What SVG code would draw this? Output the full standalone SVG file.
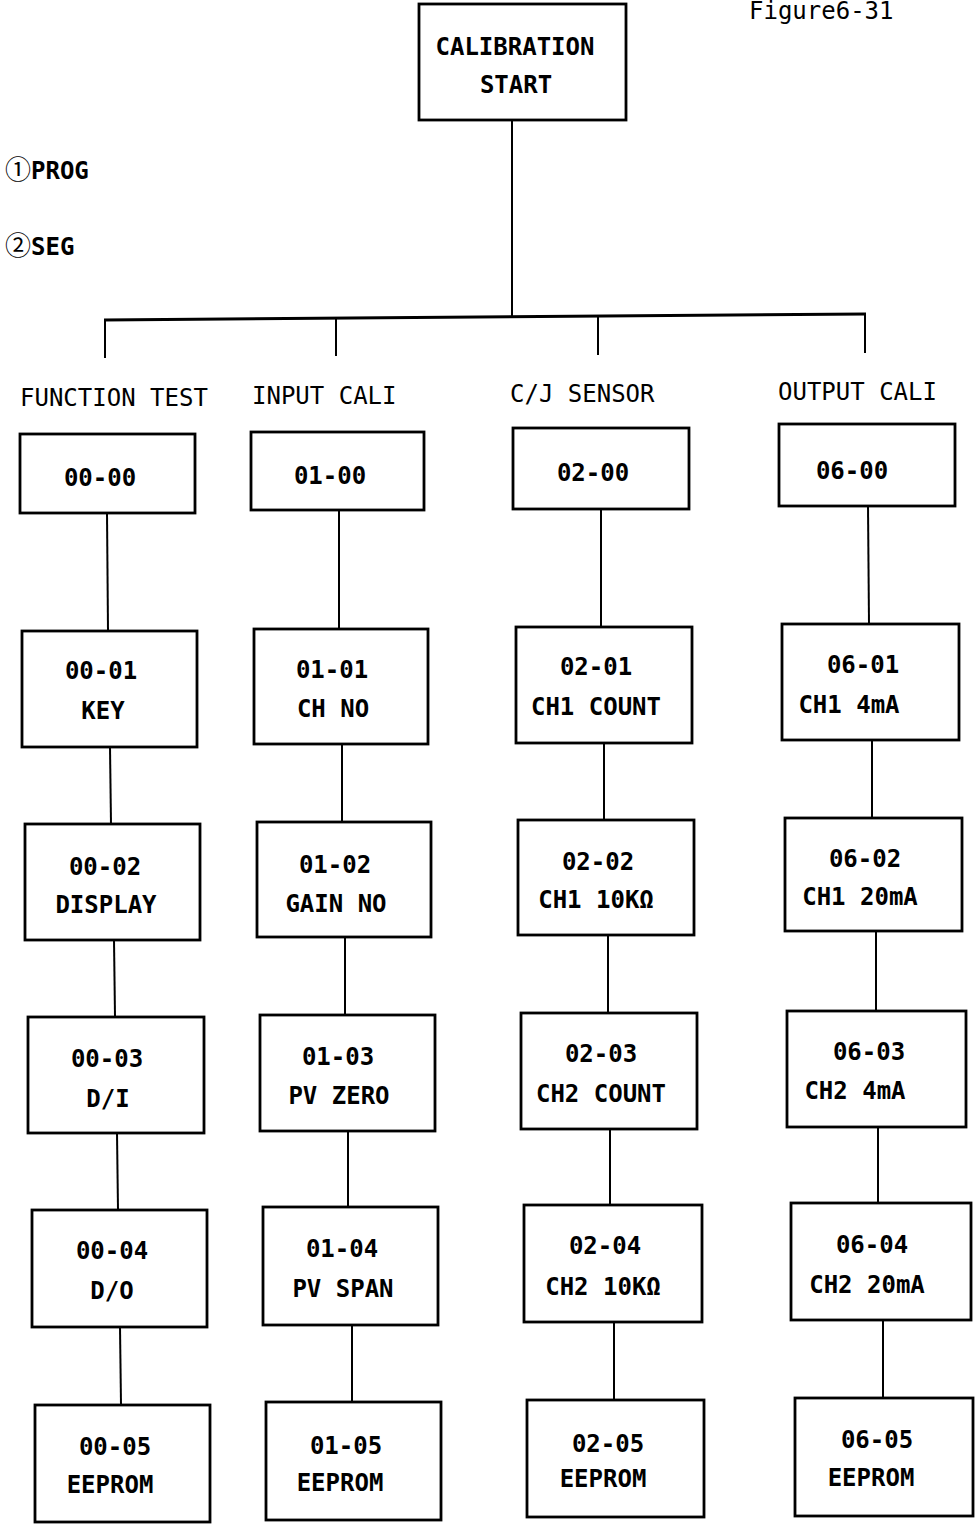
<svg xmlns="http://www.w3.org/2000/svg" width="975" height="1526" viewBox="0 0 975 1526">
<style>
.bx{fill:#fff;stroke:#000;stroke-width:2.8}
.ln{stroke:#000;stroke-width:2;fill:none}
.bus{stroke:#000;stroke-width:3;fill:none}
text{font-family:"DejaVu Sans Mono","Liberation Mono",monospace;font-weight:bold;font-size:24px;fill:#000;text-anchor:middle}
.hd{font-weight:normal;text-anchor:start}
.lg{text-anchor:start}
.cir{font-family:"Noto Sans CJK JP","DejaVu Sans",sans-serif;font-weight:normal;font-size:26px}
</style>
<rect width="975" height="1526" fill="#fff"/>
<text x="749" y="19" class="hd">Figure6-31</text>
<g id="legend">
<text x="5" y="179" class="lg"><tspan class="cir">①</tspan>PROG</text>
<text x="5" y="255" class="lg"><tspan class="cir">②</tspan>SEG</text>
</g>
<g id="connectors">
<line class="ln" x1="512" y1="120" x2="512" y2="318"/>
<line class="bus" x1="104" y1="320" x2="866" y2="314"/>
<line class="ln" x1="105" y1="320" x2="105" y2="358"/>
<line class="ln" x1="336" y1="319" x2="336" y2="356"/>
<line class="ln" x1="598" y1="317" x2="598" y2="355"/>
<line class="ln" x1="865" y1="315" x2="865" y2="353"/>
<line class="ln" x1="107" y1="513" x2="108" y2="631"/>
<line class="ln" x1="110" y1="747" x2="111" y2="824"/>
<line class="ln" x1="114" y1="940" x2="115" y2="1017"/>
<line class="ln" x1="117" y1="1133" x2="118" y2="1210"/>
<line class="ln" x1="120" y1="1327" x2="121" y2="1405"/>
<line class="ln" x1="339" y1="510" x2="339" y2="629"/>
<line class="ln" x1="342" y1="744" x2="342" y2="822"/>
<line class="ln" x1="345" y1="937" x2="345" y2="1015"/>
<line class="ln" x1="348" y1="1131" x2="348" y2="1207"/>
<line class="ln" x1="352" y1="1325" x2="352" y2="1402"/>
<line class="ln" x1="601" y1="509" x2="601" y2="627"/>
<line class="ln" x1="604" y1="743" x2="604" y2="820"/>
<line class="ln" x1="608" y1="935" x2="608" y2="1013"/>
<line class="ln" x1="610" y1="1129" x2="610" y2="1205"/>
<line class="ln" x1="614" y1="1322" x2="614" y2="1400"/>
<line class="ln" x1="868" y1="506" x2="869" y2="624"/>
<line class="ln" x1="872" y1="740" x2="872" y2="818"/>
<line class="ln" x1="876" y1="931" x2="876" y2="1011"/>
<line class="ln" x1="878" y1="1127" x2="878" y2="1203"/>
<line class="ln" x1="883" y1="1320" x2="883" y2="1398"/>
</g>
<g id="start"><rect class="bx" x="419" y="4" width="207" height="116"/><text x="515" y="55">CALIBRATION</text><text x="516" y="93">START</text></g>
<g id="headers">
<text x="20" y="406" class="hd">FUNCTION TEST</text>
<text x="252" y="404" class="hd">INPUT CALI</text>
<text x="510" y="402" class="hd">C/J SENSOR</text>
<text x="778" y="400" class="hd">OUTPUT CALI</text>
</g>
<g id="n00-00"><rect class="bx" x="20" y="434" width="175" height="79"/><text x="100" y="486">00-00</text></g>
<g id="n00-01"><rect class="bx" x="22" y="631" width="175" height="116"/><text x="101" y="679">00-01</text><text x="103" y="719">KEY</text></g>
<g id="n00-02"><rect class="bx" x="25" y="824" width="175" height="116"/><text x="105" y="875">00-02</text><text x="106" y="913">DISPLAY</text></g>
<g id="n00-03"><rect class="bx" x="28" y="1017" width="176" height="116"/><text x="107" y="1067">00-03</text><text x="108" y="1107">D/I</text></g>
<g id="n00-04"><rect class="bx" x="32" y="1210" width="175" height="117"/><text x="112" y="1259">00-04</text><text x="112" y="1299">D/O</text></g>
<g id="n00-05"><rect class="bx" x="35" y="1405" width="175" height="117"/><text x="115" y="1455">00-05</text><text x="110" y="1493">EEPROM</text></g>
<g id="n01-00"><rect class="bx" x="251" y="432" width="173" height="78"/><text x="330" y="484">01-00</text></g>
<g id="n01-01"><rect class="bx" x="254" y="629" width="174" height="115"/><text x="332" y="678">01-01</text><text x="333" y="717">CH NO</text></g>
<g id="n01-02"><rect class="bx" x="257" y="822" width="174" height="115"/><text x="335" y="873">01-02</text><text x="336" y="912">GAIN NO</text></g>
<g id="n01-03"><rect class="bx" x="260" y="1015" width="175" height="116"/><text x="338" y="1065">01-03</text><text x="339" y="1104">PV ZERO</text></g>
<g id="n01-04"><rect class="bx" x="263" y="1207" width="175" height="118"/><text x="342" y="1257">01-04</text><text x="343" y="1297">PV SPAN</text></g>
<g id="n01-05"><rect class="bx" x="266" y="1402" width="175" height="118"/><text x="346" y="1454">01-05</text><text x="340" y="1491">EEPROM</text></g>
<g id="n02-00"><rect class="bx" x="513" y="428" width="176" height="81"/><text x="593" y="481">02-00</text></g>
<g id="n02-01"><rect class="bx" x="516" y="627" width="176" height="116"/><text x="596" y="675">02-01</text><text x="596" y="715">CH1 COUNT</text></g>
<g id="n02-02"><rect class="bx" x="518" y="820" width="176" height="115"/><text x="598" y="870">02-02</text><text x="596" y="908">CH1 10KΩ</text></g>
<g id="n02-03"><rect class="bx" x="521" y="1013" width="176" height="116"/><text x="601" y="1062">02-03</text><text x="601" y="1102">CH2 COUNT</text></g>
<g id="n02-04"><rect class="bx" x="524" y="1205" width="178" height="117"/><text x="605" y="1254">02-04</text><text x="603" y="1295">CH2 10KΩ</text></g>
<g id="n02-05"><rect class="bx" x="527" y="1400" width="177" height="117"/><text x="608" y="1452">02-05</text><text x="603" y="1487">EEPROM</text></g>
<g id="n06-00"><rect class="bx" x="779" y="424" width="176" height="82"/><text x="852" y="479">06-00</text></g>
<g id="n06-01"><rect class="bx" x="782" y="624" width="177" height="116"/><text x="863" y="673">06-01</text><text x="849" y="713">CH1 4mA</text></g>
<g id="n06-02"><rect class="bx" x="785" y="818" width="177" height="113"/><text x="865" y="867">06-02</text><text x="860" y="905">CH1 20mA</text></g>
<g id="n06-03"><rect class="bx" x="787" y="1011" width="179" height="116"/><text x="869" y="1060">06-03</text><text x="855" y="1099">CH2 4mA</text></g>
<g id="n06-04"><rect class="bx" x="791" y="1203" width="180" height="117"/><text x="872" y="1253">06-04</text><text x="867" y="1293">CH2 20mA</text></g>
<g id="n06-05"><rect class="bx" x="795" y="1398" width="178" height="118"/><text x="877" y="1448">06-05</text><text x="871" y="1486">EEPROM</text></g>
</svg>
